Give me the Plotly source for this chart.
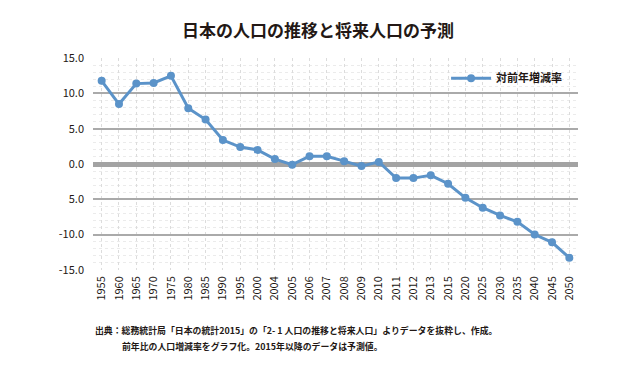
import plotly.graph_objects as go

years = ["1955","1960","1965","1970","1975","1980","1985","1990","1995","2000",
         "2004","2005","2006","2007","2008","2009","2010","2011","2012","2013",
         "2015","2020","2025","2030","2035","2040","2045","2050"]
rate = [11.8, 8.5, 11.4, 11.5, 12.5, 7.9, 6.3, 3.4, 2.4, 2.0,
        0.7, -0.1, 1.1, 1.1, 0.4, -0.3, 0.3, -2.0, -2.0, -1.6,
        -2.8, -4.8, -6.2, -7.3, -8.2, -10.0, -11.1, -13.3]
ytick_vals = [15, 10, 5, 0, -5, -10, -15]
ytick_text = ["15.0", "10.0", "5.0", "0.0", "5.0", "-10.0", "-15.0"]

title_text = "日本の人口の推移と将来人口の予測"
series_name = "対前年増減率"
note1 = "出典：総務統計局「日本の統計2015」の「2- 1 人口の推移と将来人口」よりデータを抜粋し、作成。"
note2 = "前年比の人口増減率をグラフ化。2015年以降のデータは予測値。"

FONT = "Noto Sans CJK JP"
TXT = "#231815"
BLUE = "#5b93c9"

fig = go.Figure()
fig.add_trace(go.Scatter(
    x=years, y=rate, mode="lines+markers", name="<b>" + series_name + "</b>",
    line=dict(color=BLUE, width=3),
    marker=dict(color=BLUE, size=8),
))

fig.update_layout(
    width=636, height=370,
    margin=dict(l=93, r=58, t=58, b=100),
    paper_bgcolor="white", plot_bgcolor="white",
    font=dict(family=FONT, color=TXT, size=11),
    title=dict(text="<b>" + title_text + "</b>", x=0.5, xanchor="center",
               y=1 - 31.5 / 370, yanchor="middle",
               font=dict(size=17, family=FONT, color=TXT)),
    showlegend=True,
    legend=dict(x=0.728, y=0.905, xanchor="left", yanchor="middle",
                bgcolor="rgba(0,0,0,0)", font=dict(size=11, family=FONT, color=TXT),
                itemwidth=40),
)

fig.update_xaxes(
    type="category", range=[-0.5, len(years) - 0.5],
    tickangle=-90, showline=False, ticks="",
    showgrid=True, gridcolor="#dcdcdc", griddash="dot", gridwidth=1,
    tickfont=dict(size=11, family=FONT, color=TXT),
    ticklabelstandoff=3, automargin=False,
)
fig.update_yaxes(
    range=[-15.03, 15.03], tickvals=ytick_vals, ticktext=ytick_text,
    showgrid=True, gridcolor="#aaaaaa", gridwidth=1.5,
    zeroline=True, zerolinecolor="#a3a3a3", zerolinewidth=5,
    showline=False, ticks="",
    tickfont=dict(size=11, family=FONT, color=TXT),
    ticklabelstandoff=8, automargin=False,
    minor=dict(dtick=1, showgrid=True, gridcolor="#ebebeb", griddash="dot", gridwidth=1),
)

fig.add_annotation(text="<b>" + note1 + "</b>", xref="paper", yref="paper",
                   x=0, y=(270 - 330) / 211.7,
                   xanchor="left", yanchor="middle", showarrow=False,
                   font=dict(size=8.9, family=FONT, color=TXT))
fig.add_annotation(text="<b>" + note2 + "</b>", xref="paper", yref="paper",
                   x=(120 - 93) / 485, y=(270 - 346.5) / 211.7,
                   xanchor="left", yanchor="middle", showarrow=False,
                   font=dict(size=8.9, family=FONT, color=TXT))

fig.write_html("out.html", config={"displayModeBar": False},
               post_script="document.body.style.margin='0';")
